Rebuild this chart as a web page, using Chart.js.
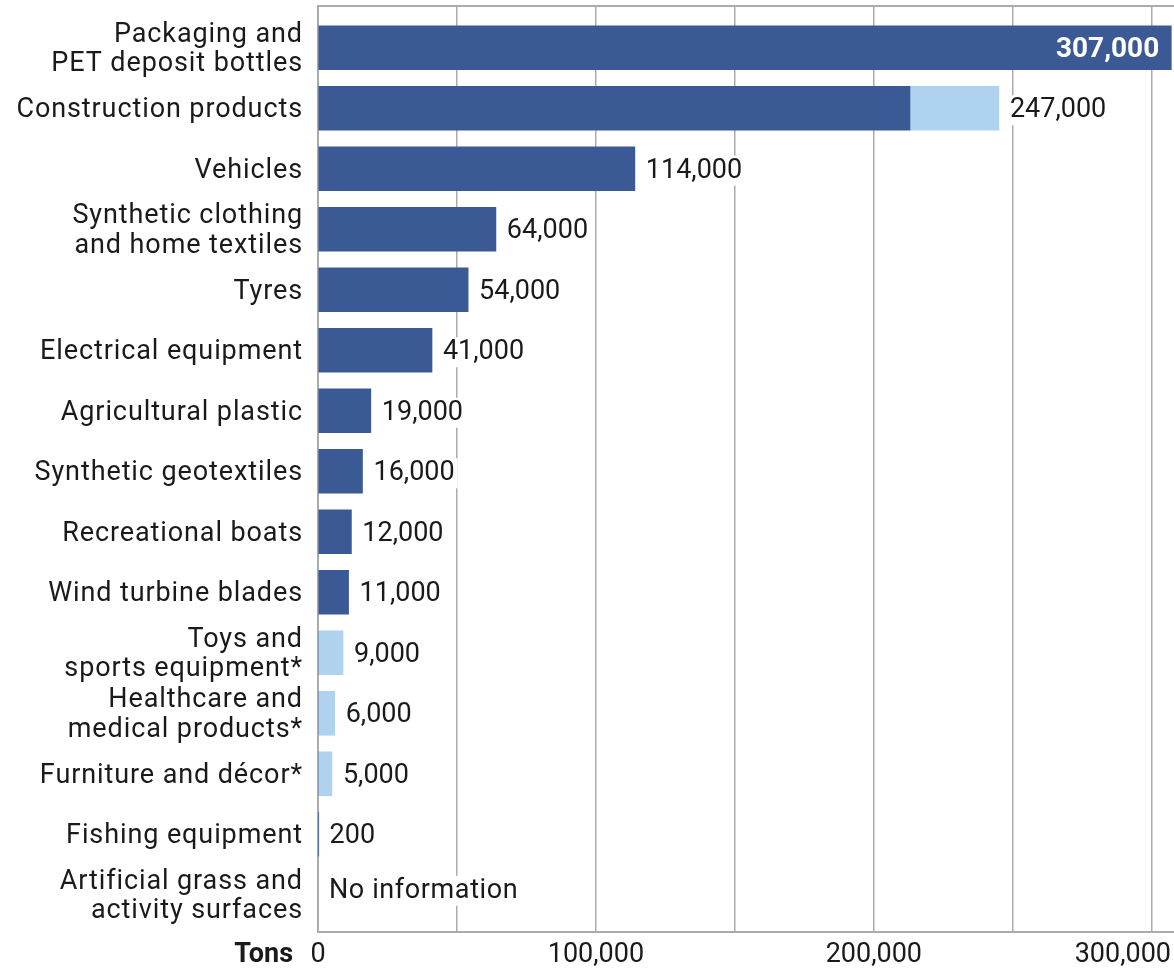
<!DOCTYPE html>
<html><head><meta charset="utf-8">
<script src="https://cdn.jsdelivr.net/npm/chart.js@4/dist/chart.umd.min.js"></script>
<style>html,body{margin:0;padding:0;background:#fff}#wrap{width:1174px;height:968px;position:relative}</style>
</head><body><div id="wrap"><canvas id="c"></canvas></div>
<script>
const categories = [
  ['Packaging and', 'PET deposit bottles'],
  'Construction products',
  'Vehicles',
  ['Synthetic clothing', 'and home textiles'],
  'Tyres',
  'Electrical equipment',
  'Agricultural plastic',
  'Synthetic geotextiles',
  'Recreational boats',
  'Wind turbine blades',
  ['Toys and', 'sports equipment*'],
  ['Healthcare and', 'medical products*'],
  'Furniture and décor*',
  'Fishing equipment',
  ['Artificial grass and', 'activity surfaces']
];
const knownTons     = [307000, 213000, 114000, 64000, 54000, 41000, 19000, 16000, 12000, 11000, 0, 0, 0, 200, null];
const estimatedTons = [0, 32000, 0, 0, 0, 0, 0, 0, 0, 0, 9000, 6000, 5000, 0, null];
const valueLabels = ['307,000', '247,000', '114,000', '64,000', '54,000', '41,000', '19,000', '16,000', '12,000', '11,000', '9,000', '6,000', '5,000', '200', 'No information'];
const xTickValues = [0, 50000, 100000, 150000, 200000, 250000, 300000];
const xTickLabels = ['0', '', '100,000', '', '200,000', '', '300,000'];
const axisTitle = 'Tons';

const FONT = 'Roboto';
const TEXT = '#1a1a1a';
const DARK = '#3b5a95';
const LIGHT = '#afd3ee';
const GRID = '#ababab';

const spacingPlugin = {
  id: 'spacing',
  beforeDraw(chart) { chart.ctx.letterSpacing = '0.9px'; },
  beforeDatasetsDraw(chart) { chart.ctx.letterSpacing = '0px'; }
};

const labelPlugin = {
  id: 'valueLabels',
  afterDatasetsDraw(chart) {
    const { ctx, scales: { x, y } } = chart;
    ctx.save();
    ctx.textBaseline = 'middle';
    categories.forEach((c, i) => {
      let end = x.getPixelForValue(0);
      chart.data.datasets.forEach((ds, di) => {
        const el = chart.getDatasetMeta(di).data[i];
        const v = ds.data[i] && ds.data[i].x;
        if (el && v) end = Math.max(end, el.x);
      });
      const yy = y.getPixelForValue(i) + (i === 14 ? -4 : 2);
      const txt = valueLabels[i];
      if (i === 0) {
        ctx.letterSpacing = '0px';
        ctx.font = `bold 28px ${FONT}`;
        ctx.fillStyle = '#ffffff';
        ctx.textAlign = 'right';
        ctx.fillText(txt, end - 12, yy);
      } else {
        ctx.letterSpacing = (i === 14) ? '0.6px' : '0px';
        ctx.font = `27px ${FONT}`;
        const w = ctx.measureText(txt).width;
        const tx = end + 11;
        ctx.fillStyle = '#ffffff';
        ctx.fillRect(tx - 3, yy - 15, w + 6, 30);
        ctx.fillStyle = TEXT;
        ctx.textAlign = 'left';
        ctx.fillText(txt, tx, yy);
      }
    });
    ctx.restore();
  },
  afterDraw(chart) {
    const { ctx, scales: { x } } = chart;
    ctx.save();
    ctx.letterSpacing = '0px';
    ctx.textBaseline = 'middle';
    ctx.fillStyle = TEXT;
    ctx.font = `27px ${FONT}`;
    ctx.textAlign = 'center';
    const ty = x.bottom - 13;
    xTickValues.forEach((v, i) => {
      const t = xTickLabels[i];
      if (!t) return;
      const w = ctx.measureText(t).width;
      let px = x.getPixelForValue(v);
      px = Math.min(px, chart.width - 3 - w / 2);
      ctx.fillText(t, px, ty);
    });
    ctx.font = `bold 27px ${FONT}`;
    ctx.textAlign = 'right';
    ctx.fillText(axisTitle, x.left - 25, ty);
    ctx.restore();
  }
};

new Chart(document.getElementById('c'), {
  type: 'bar',
  data: {
    datasets: [
      { label: 'Known', data: knownTons.map((v, i) => ({ x: v, y: i })), backgroundColor: DARK, borderWidth: 0, barThickness: 44 },
      { label: 'Estimated', data: estimatedTons.map((v, i) => ({ x: v, y: i })), backgroundColor: LIGHT, borderWidth: 0, barThickness: 44 }
    ]
  },
  options: {
    indexAxis: 'y',
    responsive: true,
    maintainAspectRatio: false,
    animation: false,
    layout: { padding: 0 },
    plugins: { legend: { display: false }, tooltip: { enabled: false } },
    scales: {
      x: {
        type: 'linear', position: 'bottom', stacked: true,
        min: 0, max: 308000,
        afterBuildTicks(s) { s.ticks = xTickValues.map(v => ({ value: v })); },
        afterFit(s) { s.height = 36; s.paddingLeft = 0; s.paddingRight = 0; },
        ticks: { display: false },
        grid: { color: GRID, lineWidth: 1.5, drawTicks: false },
        border: { display: true, color: GRID, width: 2 }
      },
      xTop: {
        type: 'linear', position: 'top', display: true,
        min: 0, max: 308000,
        afterFit(s) { s.height = 6; s.paddingLeft = 0; s.paddingRight = 0; },
        ticks: { display: false },
        grid: { drawOnChartArea: false, drawTicks: false },
        border: { display: true, color: GRID, width: 2 }
      },
      y: {
        type: 'linear', position: 'left', reverse: true, stacked: true, offset: false,
        min: -0.69, max: 14.615,
        afterBuildTicks(s) { s.ticks = categories.map((c, i) => ({ value: i })); },
        afterFit(s) { s.width = 318; s.paddingTop = 0; s.paddingBottom = 0; },
        ticks: {
          autoSkip: false, padding: 15, color: TEXT, labelOffset: 2,
          font: { family: FONT, size: 27, lineHeight: 1.1 },
          callback: (v) => categories[v]
        },
        grid: { drawOnChartArea: false, drawTicks: false },
        border: { display: true, color: GRID, width: 2 }
      }
    }
  },
  plugins: [spacingPlugin, labelPlugin]
});
</script>
</body></html>
